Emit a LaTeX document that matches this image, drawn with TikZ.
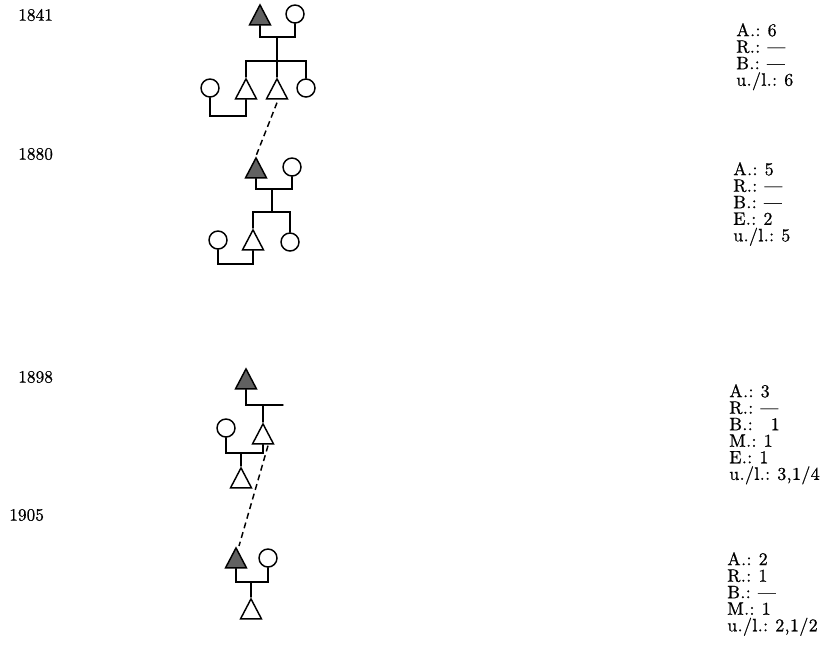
\documentclass[tikz,border=0pt]{standalone}
\usepackage{fontspec}
\usetikzlibrary{shapes.geometric,calc}
\newfontfamily\legfont{lmroman10-regular.otf}[LetterSpace=2, FakeBold=0.7]
\newfontfamily\yearfont{lmroman10-regular.otf}[FakeBold=0.7]
\tikzset{
  kin/.style={line width=1.1pt, line cap=round},
  male/.style={isosceles triangle, shape border rotate=90,
    isosceles triangle stretches, minimum width=15.75pt, minimum height=15pt,
    inner sep=0pt, draw, line width=1.1pt, anchor=apex},
  ego/.style={male, fill=black!62},
  female/.style={circle, draw, line width=1.1pt, minimum size=13.5pt, inner sep=0pt},
  link/.style={line width=1.1pt, dash pattern=on 4.5pt off 3pt},
  year/.style={inner sep=0pt, anchor=west, font=\fontsize{13}{14}\selectfont\yearfont},
  legend/.style={inner sep=0pt, anchor=north west, align=left,
    font=\fontsize{13.5}{12.4}\selectfont\legfont},
}
\newcommand{\gap}{\hspace{0.4em}}
\begin{document}
\begin{tikzpicture}[x=0.75pt,y=-0.75pt]
\useasboundingbox (0,0) rectangle (821,644);

% ---- 1841 ----
\node[ego] (f1) at (260,3) {};
\node[female] (w1) at (295,14) {};
\coordinate (c1) at (277,37);
\coordinate (b1) at (277,61);
\node[female] (w0) at (210,88) {};
\node[male] (t2) at (246,77) {};
\node[male] (t3) at (277,77) {};
\node[female] (w4) at (306,88) {};
\coordinate (m1) at (228,116);
\draw[kin] (f1.lower side) |- (c1) -| (w1.south);
\draw[kin] (c1) -- (b1);
\draw[kin] (t2.apex) |- (b1) -| (w4.north);
\draw[kin] (t3.apex) -- (b1);
\draw[kin] (w0.south) |- (m1) -| (t2.lower side);

% ---- 1880 ----
\node[ego] (f2) at (256,156) {};
\node[female] (w2) at (292,167) {};
\coordinate (c2) at (272,189);
\coordinate (b2) at (272,212);
\node[male] (t5) at (253,228) {};
\node[female] (w6) at (290,242) {};
\node[female] (w5) at (218,240) {};
\coordinate (m2) at (235,264);
\draw[kin] (f2.lower side) |- (c2) -| (w2.south);
\draw[kin] (c2) -- (b2);
\draw[kin] (t5.apex) |- (b2) -| (w6.north);
\draw[kin] (w5.south) |- (m2) -| (t5.lower side);
\draw[link] ($(t3.lower side)+(0,3)$) -- (f2.apex);

% ---- 1898 ----
\node[ego] (f3) at (246,367) {};
\coordinate (e3) at (283,405);
\node[male] (t7) at (263,422) {};
\node[female] (w7) at (226,428) {};
\coordinate (c3) at (241,453);
\node[male] (t8) at (241,466) {};
\draw[kin] (f3.lower side) |- (e3);
\draw[kin] (t7.apex) -- (t7.apex |- e3);
\draw[kin] (w7.south) |- (c3) -| (t7.lower side);
\draw[kin] (c3) -- (t8.apex);

% ---- 1905 ----
\node[ego] (f4) at (236,546) {};
\node[female] (w8) at (268,558) {};
\coordinate (c4) at (251,582);
\node[male] (t9) at (251,597) {};
\draw[kin] (f4.lower side) |- (c4) -| (w8.south);
\draw[kin] (c4) -- (t9.apex);
\draw[link] ($(t7.lower side)+(5,1)$) -- ($(f4.apex)+(3,0)$);

% ---- years ----
\node[year] (y1) at (18,15) {1841};
\node[year] (y2) at (18,154) {1880};
\node[year] (y3) at (18,377) {1898};
\node[year] (y4) at (9,515) {1905};

% ---- counts ----
\node[legend] (l1) at (736,23) {A.:\gap 6\\R.:\gap\textemdash\\B.:\gap\textemdash\\u./l.:\gap 6};
\node[legend] (l2) at (733,162) {A.:\gap 5\\R.:\gap\textemdash\\B.:\gap\textemdash\\E.:\gap 2\\u./l.:\gap 5};
\node[legend] (l3) at (729,384) {A.:\gap 3\\R.:\gap\textemdash\\B.:\gap\hspace{0.6em}1\\M.:\gap 1\\E.:\gap 1\\u./l.:\gap 3,1/4};
\node[legend] (l4) at (727,552) {A.:\gap 2\\R.:\gap 1\\B.:\gap\textemdash\\M.:\gap 1\\u./l.:\gap 2,1/2};
\end{tikzpicture}
\end{document}
